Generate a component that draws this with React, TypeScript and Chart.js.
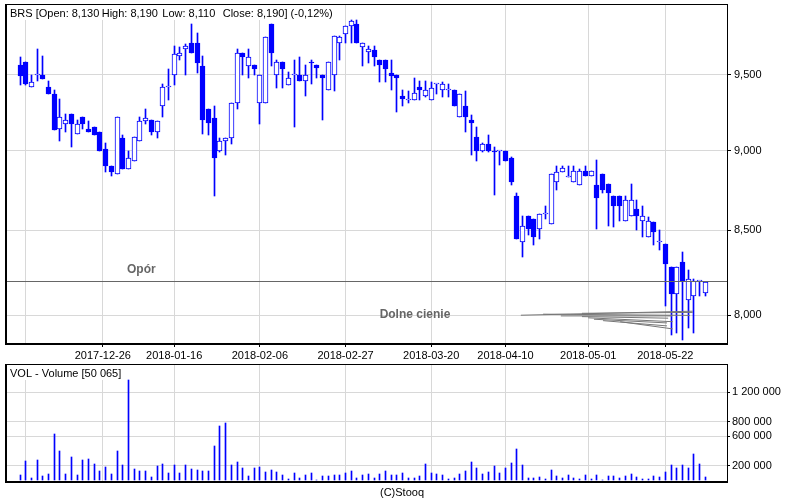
import React, { useEffect, useRef } from 'react';
import { Chart, registerables } from 'chart.js';

Chart.register(...registerables);

// ---------------- data (trading days 2017-12-04 .. 2018-06-01) ----------------
const opens = [
  9.57, 9.59, 9.42, 9.50, 9.50, 9.42, 9.37, 9.14, 9.17, 9.24, 9.11, 9.22, 9.14, 9.15, 9.12, 9.01, 8.90, 8.85, 9.08, 8.88, 8.93, 9.06, 9.19, 9.20, 9.12, 9.29, 9.42, 9.50, 9.63, 9.68,
  9.72, 9.72, 9.56, 9.27, 9.21, 9.00, 9.06, 9.08, 9.31, 9.65, 9.56, 9.57, 9.31, 9.31, 9.85, 9.50, 9.59, 9.43, 9.50, 9.50, 9.46, 9.59, 9.57, 9.50, 9.40, 9.50, 9.72, 9.78, 9.84, 9.85,
  9.69, 9.66, 9.67, 9.60, 9.60, 9.51, 9.50, 9.36, 9.33, 9.33, 9.42, 9.36, 9.33, 9.44, 9.40, 9.40, 9.40, 9.22, 9.29, 9.20, 9.09, 9.00, 9.04, 9.00, 9.00, 9.00, 8.95, 8.71, 8.43, 8.59,
  8.57, 8.51, 8.60, 8.54, 8.80, 8.86, 8.83, 8.80, 8.78, 8.87, 8.84, 8.78, 8.85, 8.79, 8.71, 8.71, 8.56, 8.59, 8.63, 8.56, 8.46, 8.55, 8.43, 8.42, 8.28, 8.12, 8.31, 8.09, 8.11, 8.20, 8.13,
];
const highs = [
  9.62, 9.59, 9.50, 9.68, 9.63, 9.46, 9.40, 9.34, 9.24, 9.24, 9.20, 9.22, 9.19, 9.15, 9.12, 9.05, 8.90, 9.22, 9.10, 9.00, 9.09, 9.22, 9.27, 9.20, 9.19, 9.44, 9.54, 9.70, 9.69, 9.71,
  9.85, 9.79, 9.63, 9.27, 9.29, 9.08, 9.08, 9.31, 9.68, 9.65, 9.68, 9.57, 9.50, 9.76, 9.85, 9.60, 9.59, 9.52, 9.60, 9.62, 9.57, 9.60, 9.57, 9.50, 9.59, 9.77, 9.77, 9.84, 9.88, 9.88,
  9.72, 9.70, 9.70, 9.60, 9.60, 9.60, 9.50, 9.40, 9.39, 9.48, 9.46, 9.46, 9.45, 9.44, 9.45, 9.44, 9.40, 9.37, 9.39, 9.23, 9.15, 9.05, 9.10, 9.02, 9.00, 9.00, 8.96, 8.73, 8.59, 8.59,
  8.57, 8.60, 8.65, 8.85, 8.90, 8.90, 8.90, 8.90, 8.88, 8.90, 8.87, 8.94, 8.85, 8.79, 8.71, 8.71, 8.71, 8.79, 8.69, 8.65, 8.58, 8.55, 8.50, 8.42, 8.28, 8.28, 8.37, 8.26, 8.21, 8.20, 8.19,
];
const lows = [
  9.43, 9.43, 9.42, 9.46, 9.47, 9.37, 9.13, 9.06, 9.12, 9.02, 9.11, 9.14, 9.12, 9.10, 9.00, 8.86, 8.84, 8.85, 8.88, 8.88, 8.93, 9.06, 9.17, 9.10, 9.08, 9.22, 9.33, 9.43, 9.60, 9.50,
  9.65, 9.51, 9.11, 9.10, 8.71, 8.99, 8.97, 9.04, 9.27, 9.50, 9.48, 9.50, 9.17, 9.31, 9.56, 9.41, 9.41, 9.43, 9.15, 9.46, 9.36, 9.44, 9.48, 9.20, 9.40, 9.39, 9.60, 9.72, 9.72, 9.72,
  9.56, 9.58, 9.56, 9.45, 9.45, 9.40, 9.25, 9.29, 9.31, 9.33, 9.33, 9.35, 9.33, 9.37, 9.35, 9.35, 9.29, 9.22, 9.12, 8.97, 8.93, 8.99, 8.99, 8.72, 8.91, 8.93, 8.78, 8.45, 8.34, 8.47,
  8.41, 8.45, 8.57, 8.54, 8.75, 8.86, 8.83, 8.80, 8.78, 8.84, 8.84, 8.51, 8.73, 8.53, 8.52, 8.56, 8.56, 8.59, 8.50, 8.46, 8.46, 8.41, 8.38, 8.05, 7.89, 7.90, 7.86, 7.93, 7.90, 8.11, 8.11,
];
const closes = [
  9.49, 9.44, 9.45, 9.50, 9.47, 9.37, 9.13, 9.22, 9.20, 9.17, 9.17, 9.17, 9.12, 9.10, 9.00, 8.90, 8.86, 9.22, 8.88, 8.95, 9.09, 9.19, 9.21, 9.12, 9.19, 9.42, 9.42, 9.64, 9.65, 9.70,
  9.65, 9.58, 9.20, 9.18, 8.95, 9.06, 9.08, 9.31, 9.65, 9.62, 9.62, 9.54, 9.50, 9.76, 9.65, 9.59, 9.54, 9.48, 9.50, 9.46, 9.50, 9.58, 9.55, 9.48, 9.59, 9.77, 9.76, 9.84, 9.87, 9.72,
  9.72, 9.68, 9.62, 9.57, 9.54, 9.49, 9.48, 9.34, 9.33, 9.38, 9.40, 9.40, 9.41, 9.44, 9.44, 9.40, 9.29, 9.37, 9.22, 9.18, 9.00, 9.04, 9.00, 8.99, 9.00, 8.93, 8.80, 8.45, 8.53, 8.51,
  8.46, 8.60, 8.60, 8.85, 8.86, 8.89, 8.84, 8.87, 8.87, 8.84, 8.87, 8.70, 8.75, 8.73, 8.65, 8.65, 8.69, 8.69, 8.59, 8.59, 8.56, 8.49, 8.43, 8.30, 8.12, 8.28, 8.20, 8.21, 8.20, 8.20, 8.19,
];
const volumes = [
  73000, 263000, 36000, 277000, 59000, 86000, 631000, 400000, 86000, 318000, 73000, 277000, 291000, 222000, 127000, 182000, 86000, 400000, 209000, 1367000, 154000, 127000, 127000, 50000, 195000, 222000, 100000, 209000, 100000, 209000,
  154000, 141000, 127000, 127000, 468000, 740000, 781000, 209000, 250000, 168000, 59000, 168000, 182000, 113000, 141000, 113000, 73000, 18000, 100000, 32000, 73000, 100000, 8000, 59000, 59000, 73000, 73000, 100000, 127000, 32000,
  73000, 86000, 32000, 86000, 127000, 73000, 73000, 100000, 32000, 32000, 59000, 222000, 100000, 86000, 73000, 18000, 32000, 86000, 127000, 250000, 168000, 86000, 113000, 195000, 100000, 168000, 236000, 427000, 209000, 32000,
  32000, 45000, 18000, 141000, 59000, 32000, 73000, 32000, 18000, 73000, 18000, 73000, 8000, 59000, 59000, 32000, 59000, 86000, 45000, 18000, 18000, 59000, 45000, 113000, 209000, 168000, 209000, 168000, 359000, 222000, 50065,
];

// date gridlines, in trading-day numbers (x.5 = holiday between two sessions)
const dateTickPositions = [2, 15.5, 28, 43, 58, 73, 86, 100.5, 114];
const dateTickLabels = ['', '2017-12-26', '2018-01-16', '2018-02-06', '2018-02-27', '2018-03-20', '2018-04-10', '2018-05-01', '2018-05-22'];
const priceTicks = [8.0, 8.5, 9.0, 9.5];
const volumeTicks = [200000, 600000, 800000, 1200000];

// annotations
const resistanceLevel = 8.2;
const shadowFromDay = [88.7, 92.6, 95.7, 99.4, 99.4, 100.5, 101.5, 103.1, 106.1];
const shadowFromVal = [8.000, 8.006, 7.996, 8.011, 7.992, 7.985, 7.977, 7.969, 7.963];
const shadowToDay = [118.8, 118.3, 115.2, 118.8, 114.5, 115.3, 114.3, 114.3, 115.3];
const shadowToVal = [8.023, 7.999, 7.996, 8.016, 7.983, 7.963, 7.956, 7.939, 7.922];

// ---------------- layout / style ----------------
const X_MIN = -1.63;
const X_MAX = 124.8;
const PRICE_MIN = 7.837;
const PRICE_MAX = 9.994;
const VOL_MIN = -22000;
const VOL_MAX = 1582000;
const FONT = '"Liberation Sans", Arial, sans-serif';
const BLUE = '#0000ff';
const GRID = '#d8d8d8';
const NOTE = '#666666';
const RESIST_LABEL_DAY = 22.24;
const RESIST_LABEL_DY = -8;
const SHADOW_LABEL_DAY = 70.16;
const SHADOW_LABEL_PRICE = 7.982;
const TITLE_X = [10, 101.7, 162.3, 222.7];

function fmtPrice(v: number) {
  return v.toFixed(3).replace('.', ',');
}
function fmtVol(v: number) {
  return Math.round(v).toString().replace(/\B(?=(\d{3})+(?!\d))/g, '\u00a0');
}

function drawFrame(ctx: any, a: any) {
  ctx.strokeStyle = '#000';
  ctx.lineWidth = 1;
  ctx.strokeRect(a.left + 0.5, a.top + 0.5, a.right - a.left, a.bottom - a.top);
  ctx.fillStyle = '#000';
  ctx.fillRect(a.left + 1, a.top, 1, a.bottom - a.top);
  ctx.fillRect(a.left, a.bottom - 1, a.right - a.left, 1);
}

function dateAxis(showLabels: boolean) {
  return {
    type: 'linear',
    min: X_MIN,
    max: X_MAX,
    bounds: 'data',
    offset: false,
    afterBuildTicks: (s: any) => {
      s.ticks = dateTickPositions.map((v) => ({ value: v }));
    },
    afterFit: (s: any) => {
      s.height = 18;
      s.paddingLeft = 0;
      s.paddingRight = 0;
    },
    grid: {
      color: GRID,
      lineWidth: 1,
      offset: false,
      drawTicks: showLabels,
      tickLength: 3,
      tickColor: (c: any) => (dateTickLabels[c.index] ? '#000000' : 'rgba(0,0,0,0)'),
    },
    border: { display: false },
    ticks: {
      display: showLabels,
      autoSkip: false,
      maxRotation: 0,
      minRotation: 0,
      padding: 2,
      color: '#000',
      font: { size: 11, family: FONT },
      callback: (_v: any, i: number) => dateTickLabels[i],
    },
  };
}

const snapPlugin = {
  id: 'snapPixels',
  beforeDatasetsDraw(chart: any) {
    chart.data.datasets.forEach((ds: any, i: number) => {
      const meta = chart.getDatasetMeta(i);
      if (meta.type === 'bar') {
        meta.data.forEach((el: any) => {
          const w = Math.max(1, Math.round(el.width));
          const left = Math.round(el.x - w / 2);
          el.width = w;
          el.x = left + w / 2;
          el.y = Math.round(el.y);
          el.base = Math.round(el.base);
        });
      } else if (ds.snapY) {
        meta.data.forEach((el: any) => {
          el.y = Math.round(el.y) + 0.5;
        });
      }
    });
  },
};

export default function App() {
  const mainRef = useRef<HTMLCanvasElement | null>(null);
  const volRef = useRef<HTMLCanvasElement | null>(null);

  useEffect(() => {
    if (!mainRef.current || !volRef.current) return;
    Chart.defaults.font.family = FONT;
    Chart.defaults.font.size = 11;
    Chart.defaults.color = '#000';

    const last = opens.length - 1;
    const days = opens.map((_, i) => i + 1);
    const change = ((closes[last] - closes[last - 1]) / closes[last - 1]) * 100;
    const titleParts = [
      `BRS [Open: ${fmtPrice(opens[last])}`,
      `High: ${fmtPrice(highs[last])}`,
      `Low: ${fmtPrice(lows[last])}`,
      `Close: ${fmtPrice(closes[last])}] (${change.toFixed(2).replace('.', ',')}%)`,
    ];
    const volTitle = `VOL - Volume [${fmtVol(volumes[last])}]`;

    const wickData = days.map((d, i) => ({ x: d, y: [lows[i], highs[i]] }));
    const bodyData = days.map((d, i) => ({ x: d, y: [opens[i], closes[i]] }));
    const bodyFill = days.map((_, i) => (closes[i] < opens[i] ? BLUE : '#ffffff'));

    const shadowSets = shadowFromDay.map((d, i) => ({
      type: 'line',
      data: [
        { x: d, y: shadowFromVal[i] },
        { x: shadowToDay[i], y: shadowToVal[i] },
      ],
      borderColor: '#777777',
      borderWidth: 1,
      pointRadius: 0,
      order: 1,
    }));

    const mainDecor = {
      id: 'mainDecor',
      afterDraw(chart: any) {
        const { ctx, chartArea: a, scales } = chart;
        ctx.save();
        ctx.font = `11px ${FONT}`;
        const endX = TITLE_X[3] + ctx.measureText(titleParts[3]).width;
        ctx.fillStyle = '#ffffff';
        ctx.fillRect(a.left + 1, a.top + 1, endX - a.left + 3, 15);
        ctx.fillStyle = '#000';
        ctx.textAlign = 'left';
        ctx.textBaseline = 'alphabetic';
        titleParts.forEach((t, i) => ctx.fillText(t, TITLE_X[i], a.top + 13));

        ctx.font = `bold 12px ${FONT}`;
        ctx.fillStyle = NOTE;
        ctx.textAlign = 'center';
        ctx.fillText('Opór', scales.x.getPixelForValue(RESIST_LABEL_DAY), scales.y.getPixelForValue(resistanceLevel) + RESIST_LABEL_DY);
        ctx.fillText('Dolne cienie', scales.x.getPixelForValue(SHADOW_LABEL_DAY), scales.y.getPixelForValue(SHADOW_LABEL_PRICE));

        drawFrame(ctx, a);
        ctx.restore();
      },
    };

    const volDecor = {
      id: 'volDecor',
      afterDraw(chart: any) {
        const { ctx, chartArea: a } = chart;
        ctx.save();
        ctx.font = `11px ${FONT}`;
        const tw = ctx.measureText(volTitle).width;
        ctx.fillStyle = '#ffffff';
        ctx.fillRect(a.left + 1, a.top + 1, tw + 8, 15);
        ctx.fillStyle = '#000';
        ctx.textAlign = 'left';
        ctx.textBaseline = 'alphabetic';
        ctx.fillText(volTitle, a.left + 5, a.top + 13);
        ctx.textAlign = 'center';
        ctx.fillText('(C)Stooq', chart.width / 2 + 2, a.bottom + 14);
        drawFrame(ctx, a);
        ctx.restore();
      },
    };

    const mainChart = new Chart(mainRef.current, {
      type: 'bar',
      data: {
        datasets: [
          {
            type: 'bar',
            data: wickData,
            backgroundColor: BLUE,
            borderWidth: 0,
            barThickness: 1,
            grouped: false,
            order: 3,
          },
          {
            type: 'bar',
            data: bodyData,
            backgroundColor: bodyFill,
            borderColor: BLUE,
            borderWidth: 1,
            borderSkipped: false,
            barThickness: 5,
            minBarLength: 1,
            grouped: false,
            order: 2,
          },
          {
            type: 'line',
            data: [
              { x: X_MIN, y: resistanceLevel },
              { x: X_MAX, y: resistanceLevel },
            ],
            borderColor: '#666666',
            borderWidth: 1,
            pointRadius: 0,
            order: 1,
            snapY: true,
          },
          ...shadowSets,
        ] as any,
      },
      options: {
        responsive: false,
        animation: false,
        events: [],
        layout: { padding: { left: 5, top: 4, right: 0, bottom: 0 } },
        plugins: { legend: { display: false }, tooltip: { enabled: false } },
        scales: {
          x: dateAxis(true) as any,
          y: {
            type: 'logarithmic',
            position: 'right',
            min: PRICE_MIN,
            max: PRICE_MAX,
            bounds: 'data',
            beginAtZero: false,
            afterBuildTicks: (s: any) => {
              s.ticks = priceTicks.map((v) => ({ value: v }));
            },
            afterFit: (s: any) => {
              s.width = 73;
              s.paddingTop = 0;
              s.paddingBottom = 0;
            },
            grid: { color: GRID, tickLength: 4, tickColor: '#000' },
            border: { display: false },
            ticks: {
              padding: 3,
              color: '#000',
              font: { size: 11, family: FONT },
              callback: (v: any) => fmtPrice(Number(v)),
            },
          } as any,
        },
      },
      plugins: [snapPlugin, mainDecor],
    } as any);

    const volChart = new Chart(volRef.current, {
      type: 'bar',
      data: {
        datasets: [
          {
            type: 'bar',
            data: days.map((d, i) => ({ x: d, y: volumes[i] })),
            backgroundColor: BLUE,
            borderWidth: 0,
            barThickness: 1,
            grouped: false,
          },
        ] as any,
      },
      options: {
        responsive: false,
        animation: false,
        events: [],
        layout: { padding: { left: 5, top: 2, right: 0, bottom: 0 } },
        plugins: { legend: { display: false }, tooltip: { enabled: false } },
        scales: {
          x: dateAxis(false) as any,
          y: {
            type: 'linear',
            position: 'right',
            min: VOL_MIN,
            max: VOL_MAX,
            bounds: 'data',
            afterBuildTicks: (s: any) => {
              s.ticks = volumeTicks.map((v) => ({ value: v }));
            },
            afterFit: (s: any) => {
              s.width = 73;
              s.paddingTop = 0;
              s.paddingBottom = 0;
            },
            grid: { color: GRID, tickLength: 3, tickColor: '#000' },
            border: { display: false },
            ticks: {
              padding: 2,
              color: '#000',
              font: { size: 11, family: FONT },
              callback: (v: any) => fmtVol(Number(v)),
            },
          } as any,
        },
      },
      plugins: [snapPlugin, volDecor],
    } as any);

    return () => {
      mainChart.destroy();
      volChart.destroy();
    };
  }, []);

  return (
    <div style={{ position: 'absolute', left: 0, top: 0, width: 800, height: 500, background: '#ffffff', overflow: 'hidden' }}>
      <canvas ref={mainRef} width={800} height={362} style={{ position: 'absolute', left: 0, top: 0, width: 800, height: 362, display: 'block' }} />
      <canvas ref={volRef} width={800} height={138} style={{ position: 'absolute', left: 0, top: 362, width: 800, height: 138, display: 'block' }} />
    </div>
  );
}
